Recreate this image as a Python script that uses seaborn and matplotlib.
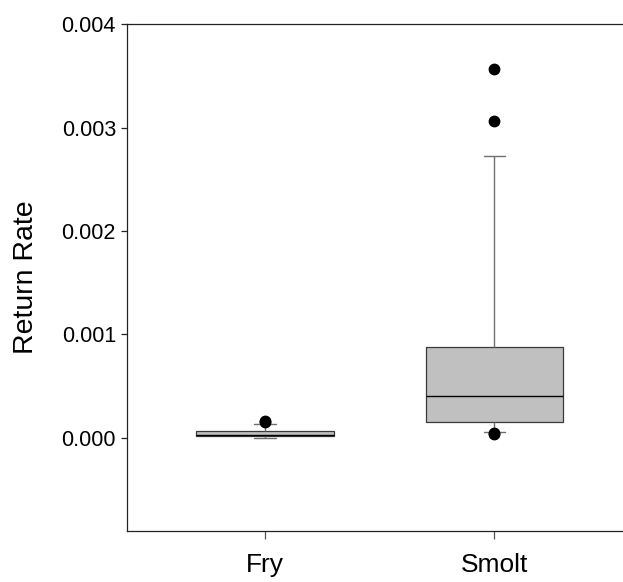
import pandas as pd
import matplotlib.pyplot as plt
import seaborn as sns

# --- Data (estimated return rates, sorted) ---
groups = ["Fry", "Smolt"]
fry_rates = [0.0, 0.0, 0.0, 0.00001, 0.000014, 0.000018, 0.00002, 0.000022,
             0.000025, 0.000028, 0.000032, 0.000036, 0.000042, 0.00005,
             0.000065, 0.000075, 0.00009, 0.000138, 0.000155, 0.00016]
smolt_rates = [0.00004, 0.00005, 0.000055, 0.0001, 0.00014, 0.000156, 0.0002,
               0.00026, 0.00033, 0.00038, 0.000426, 0.0005, 0.0006, 0.00072,
               0.00085, 0.00095, 0.0012, 0.002725, 0.00307, 0.00357]
y_ticks = [0.000, 0.001, 0.002, 0.003, 0.004]

df = pd.DataFrame({
    "group": ["Fry"] * len(fry_rates) + ["Smolt"] * len(smolt_rates),
    "rate": fry_rates + smolt_rates,
})

sns.set_style("white")
plt.rcParams['font.family'] = ['Liberation Sans', 'DejaVu Sans']
plt.rcParams['text.color'] = 'black'
plt.rcParams['axes.labelcolor'] = 'black'
plt.rcParams['xtick.color'] = 'black'
plt.rcParams['ytick.color'] = 'black'

fig = plt.figure(figsize=(6.23, 5.82), dpi=100)
ax = fig.add_axes([0.204, 0.088, 0.796, 0.870])

# SigmaPlot-style box: whiskers at 10th/90th percentiles
sns.boxplot(
    data=df, x="group", y="rate", order=groups, ax=ax,
    width=0.6, whis=(10, 90), color="#c0c0c0", saturation=1,
    linecolor="#3a3a3a", linewidth=0.9, fliersize=7.5,
    flierprops=dict(marker='o', markerfacecolor='black', markeredgecolor='black'),
    medianprops=dict(color='black', linewidth=1.0),
    whiskerprops=dict(color='#707070', linewidth=1.0),
    capprops=dict(color='#707070', linewidth=1.0),
    capwidths=0.093,
)

ax.set_xlim(-0.6, 1.56)
ax.set_ylim(-0.0009, 0.004)
ax.set_yticks(y_ticks)
ax.set_yticklabels([f"{v:.3f}" for v in y_ticks], fontsize=15.5)
ax.set_xticks([0, 1])
ax.set_xticklabels(groups, fontsize=19)
ax.set_xlabel("")
ax.set_ylabel("Return Rate", fontsize=20.5, labelpad=16)

for side in ["left", "top", "bottom"]:
    ax.spines[side].set_visible(True)
    ax.spines[side].set_color("#222222")
    ax.spines[side].set_linewidth(0.9)
ax.spines["right"].set_visible(False)

ax.tick_params(axis='y', direction='out', length=4, width=0.9, color="#222222", left=True, pad=4)
ax.tick_params(axis='x', direction='out', length=6, width=0.9, color="#555555", bottom=True, pad=10)

plt.savefig("out.png", dpi=100)
